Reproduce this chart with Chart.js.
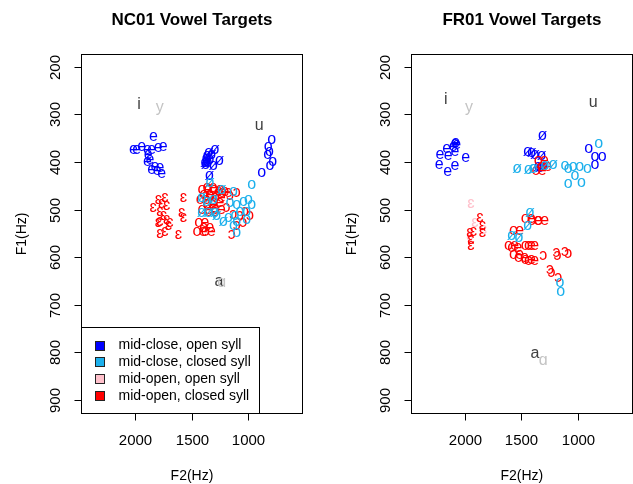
<!DOCTYPE html>
<html>
<head>
<meta charset="utf-8">
<script src="https://cdn.jsdelivr.net/npm/chart.js@4/dist/chart.umd.min.js"></script>
<style>
  body { margin: 0; background: #fff; }
  #wrap { position: relative; width: 633px; height: 484px; }
  canvas { position: absolute; top: 0; }
</style>
</head>
<body>
<div id="wrap">
  <canvas id="nc01" width="316" height="484" style="left:0"></canvas>
  <canvas id="fr01" width="317" height="484" style="left:316px"></canvas>
</div>
<script>
// axis ranges and ticks (Hz)
const F2_RANGE = [600, 2400];
const F1_RANGE = [200, 900];
const F2_TICKS = [2000, 1500, 1000];
const F1_TICKS = [200, 300, 400, 500, 600, 700, 800, 900];

const legendLabels = ["mid-close, open syll", "mid-close, closed syll", "mid-open, open syll", "mid-open, closed syll"];
const legendColors = ["#0000FF", "#1CB0EC", "#FFC0CB", "#FF0000"];
const refDark = "#404040";
const refLight = "#C4C4C4";

// [F2, F1, glyph]
const nc01MidCloseOpen = [
  [1839, 347, "e"], [1986, 374, "e"], [2015, 374, "e"], [1942, 366, "e"], [1892, 373, "e"],
  [1854, 374, "e"], [1796, 369, "e"], [1752, 368, "e"], [1884, 384, "e"], [1869, 394, "e"],
  [1892, 398, "e"], [1825, 409, "e"], [1781, 411, "e"], [1854, 415, "e"], [1766, 423, "e"],
  [1805, 418, "e"],
  [1355, 380, "ø"], [1371, 398, "ø"], [1342, 394, "ø"], [1298, 373, "ø"], [1260, 396, "ø"],
  [1313, 407, "ø"], [1348, 429, "ø"], [1386, 401, "ø"], [1366, 387, "ø"], [1327, 384, "ø"],
  [1380, 405, "ø"], [1375, 392, "ø"], [1360, 400, "ø"],
  [800, 352, "o"], [830, 366, "o"], [821, 377, "o"], [835, 384, "o"], [791, 398, "o"],
  [815, 408, "o"], [888, 422, "o"]
];
const nc01MidCloseClosed = [
  [1415, 475, "ø"], [1371, 482, "ø"], [1313, 478, "ø"], [1239, 457, "ø"], [1342, 443, "ø"],
  [1415, 506, "ø"], [1357, 506, "ø"], [1298, 506, "ø"], [1283, 513, "ø"], [1225, 524, "ø"],
  [1137, 461, "o"], [976, 447, "o"], [1108, 489, "o"], [1166, 485, "o"], [1049, 482, "o"],
  [1005, 478, "o"], [976, 489, "o"], [1181, 517, "o"], [1122, 513, "o"], [1108, 524, "o"],
  [1078, 503, "o"], [1137, 534, "o"], [1108, 548, "o"], [1020, 520, "o"], [1020, 503, "o"]
];
const nc01MidOpenOpen = [];
const nc01MidOpenClosed = [
  [1795, 478, "ɛ"], [1737, 475, "ɛ"], [1766, 487, "ɛ"], [1722, 491, "ɛ"], [1840, 496, "ɛ"],
  [1576, 475, "ɛ"], [1781, 503, "ɛ"], [1752, 513, "ɛ"], [1781, 524, "ɛ"], [1722, 520, "ɛ"],
  [1708, 534, "ɛ"], [1693, 527, "ɛ"], [1737, 545, "ɛ"], [1781, 550, "ɛ"], [1590, 506, "ɛ"],
  [1576, 517, "ɛ"], [1620, 552, "ɛ"], [1795, 527, "ɛ"],
  [1386, 457, "œ"], [1342, 454, "œ"], [1283, 457, "œ"], [1239, 461, "œ"], [1371, 468, "œ"],
  [1313, 471, "œ"], [1269, 475, "œ"], [1210, 464, "œ"], [1400, 478, "œ"], [1342, 489, "œ"],
  [1283, 485, "œ"], [1386, 499, "œ"], [1327, 503, "œ"], [1269, 499, "œ"], [1415, 527, "œ"],
  [1371, 538, "œ"], [1430, 545, "œ"], [1357, 545, "œ"],
  [1196, 496, "ɔ"], [1166, 471, "ɔ"], [1108, 464, "ɔ"], [1137, 510, "ɔ"], [1078, 513, "ɔ"],
  [1049, 527, "ɔ"], [991, 513, "ɔ"], [1035, 503, "ɔ"], [1152, 552, "ɔ"], [1108, 534, "ɔ"]
];
const nc01RefDark = [[1965, 278, "i"], [909, 323, "u"], [1263, 651, "a"]];
const nc01RefLight = [[1783, 285, "y"], [1240, 652, "ɑ"]];

const fr01MidCloseOpen = [
  [2088, 360, "e"], [2074, 363, "e"], [2103, 366, "e"], [2161, 372, "e"], [2220, 384, "e"],
  [2147, 386, "e"], [2088, 377, "e"], [1995, 391, "e"], [2226, 405, "e"], [2153, 419, "e"],
  [2088, 407, "e"], [2082, 359, "e"],
  [1321, 344, "ø"], [1450, 377, "ø"], [1386, 384, "ø"], [1327, 387, "ø"], [1357, 410, "ø"],
  [1313, 410, "ø"], [1415, 380, "ø"], [1342, 412, "ø"],
  [912, 372, "o"], [859, 389, "o"], [795, 389, "o"], [859, 405, "o"]
];
const fr01MidCloseClosed = [
  [1541, 414, "ø"], [1444, 415, "ø"], [1401, 414, "ø"], [1298, 407, "ø"], [1225, 405, "ø"],
  [1430, 506, "ø"], [1450, 533, "ø"], [1591, 554, "ø"], [1526, 559, "ø"],
  [1122, 407, "o"], [1093, 414, "o"], [1049, 410, "o"], [991, 410, "o"], [923, 414, "o"],
  [1034, 429, "o"], [1093, 445, "o"], [976, 442, "o"], [824, 361, "o"], [1166, 653, "o"],
  [1160, 671, "o"]
];
const fr01MidOpenOpen = [
  [1948, 487, "ɛ"], [1913, 527, "ɛ"], [1839, 541, "ɛ"], [1957, 555, "ɛ"]
];
const fr01MidOpenClosed = [
  [1869, 517, "ɛ"], [1848, 534, "ɛ"], [1848, 548, "ɛ"], [1957, 548, "ɛ"], [1927, 545, "ɛ"],
  [1948, 562, "ɛ"], [1948, 576, "ɛ"],
  [1444, 519, "œ"], [1386, 522, "œ"], [1327, 522, "œ"], [1547, 543, "œ"], [1591, 576, "œ"],
  [1562, 580, "œ"], [1444, 576, "œ"], [1415, 576, "œ"], [1547, 594, "œ"], [1503, 601, "œ"],
  [1444, 604, "œ"], [1415, 606, "œ"], [1330, 397, "œ"], [1350, 418, "œ"], [1300, 410, "œ"],
  [1313, 596, "ɔ"], [1196, 590, "ɔ"], [1122, 587, "ɔ"], [1093, 592, "ɔ"], [1254, 625, "ɔ"],
  [1239, 632, "ɔ"], [1181, 643, "ɔ"], [1187, 596, "ɔ"]
];
const fr01RefDark = [[2170, 269, "i"], [874, 275, "u"], [1386, 802, "a"]];
const fr01RefLight = [[1965, 285, "y"], [1312, 817, "ɑ"]];

const FONT = "'Liberation Sans', Arial, 'DejaVu Sans', sans-serif";

function toDataset(rows, color) {
  return {
    data: rows.map(r => ({ x: r[0], y: r[1] })),
    glyphs: rows.map(r => r[2]),
    glyphColor: color,
  };
}

// R-like (base graphics) drawing of glyphs, box, axes and legend
const rPlot = {
  id: "rPlot",
  afterDatasetsDraw(chart) {
    const ctx = chart.ctx;
    ctx.save();
    ctx.font = "16px " + FONT;
    ctx.textAlign = "center";
    ctx.textBaseline = "alphabetic";
    chart.data.datasets.forEach((ds, i) => {
      const meta = chart.getDatasetMeta(i);
      ctx.fillStyle = ds.glyphColor;
      meta.data.forEach((el, j) => {
        ctx.fillText(ds.glyphs[j], el.x, el.y + 4.2);
      });
    });
    ctx.restore();
  },
  afterDraw(chart, args, opts) {
    const ctx = chart.ctx;
    const area = chart.chartArea;
    const xs = chart.scales.x;
    const ys = chart.scales.y;
    const L = Math.floor(area.left) + 0.5;
    const R = Math.floor(area.right) + 0.5;
    const T = Math.floor(area.top) + 0.5;
    const B = Math.floor(area.bottom) + 0.5;
    ctx.save();
    ctx.strokeStyle = "#000";
    ctx.fillStyle = "#000";
    ctx.lineWidth = 1;

    // legend (bottomleft), drawn over the points
    if (opts.legend) {
      const w = 178, h = 86;
      const top = Math.floor(B - h) + 0.5;
      ctx.fillStyle = "#fff";
      ctx.fillRect(L, top, w, B - top);
      ctx.strokeRect(L, top, w, B - top);
      ctx.font = "14px " + FONT;
      ctx.textAlign = "left";
      ctx.textBaseline = "middle";
      legendLabels.forEach((lab, i) => {
        const cy = top + 18 + i * 16.8;
        ctx.fillStyle = legendColors[i];
        ctx.fillRect(L + 14, Math.round(cy - 5), 9, 9);
        ctx.strokeStyle = "#222";
        ctx.strokeRect(L + 14, Math.round(cy - 5) + 0.5, 9, 9);
        ctx.fillStyle = "#000";
        ctx.fillText(lab, L + 37, cy);
      });
      ctx.strokeStyle = "#000";
    }

    ctx.strokeRect(L, T, R - L, B - T);

    ctx.font = "15px " + FONT;
    ctx.fillStyle = "#000";
    // x axis
    ctx.textAlign = "center";
    ctx.textBaseline = "middle";
    const xp = F2_TICKS.map(v => Math.floor(xs.getPixelForValue(v)) + 0.5);
    ctx.beginPath();
    ctx.moveTo(xp[0], B); ctx.lineTo(xp[xp.length - 1], B);
    xp.forEach(px => { ctx.moveTo(px, B); ctx.lineTo(px, B + 7); });
    ctx.stroke();
    F2_TICKS.forEach((v, i) => ctx.fillText(String(v), xp[i], 441));

    // y axis
    const yp = F1_TICKS.map(v => Math.floor(ys.getPixelForValue(v)) + 0.5);
    ctx.beginPath();
    ctx.moveTo(L, yp[0]); ctx.lineTo(L, yp[yp.length - 1]);
    yp.forEach(py => { ctx.moveTo(L - 7, py); ctx.lineTo(L, py); });
    ctx.stroke();
    F1_TICKS.forEach((v, i) => {
      ctx.save();
      ctx.translate(L - 26, yp[i]);
      ctx.rotate(-Math.PI / 2);
      ctx.fillText(String(v), 0, 0);
      ctx.restore();
    });

    // axis titles
    ctx.font = "14px " + FONT;
    const cx = (area.left + area.right) / 2;
    const cy = (area.top + area.bottom) / 2;
    ctx.fillText("F2(Hz)", cx, 476);
    ctx.save();
    ctx.translate(L - 59, cy);
    ctx.rotate(-Math.PI / 2);
    ctx.fillText("F1(Hz)", 0, 0);
    ctx.restore();

    // main title
    ctx.font = "bold 17px " + FONT;
    ctx.fillText(opts.title, cx, 20);
    ctx.restore();
  },
};

function makePanel(id, title, groups, padLeft, padRight, showLegend) {
  const pad2 = 0.04 * (F2_RANGE[1] - F2_RANGE[0]);
  const pad1 = 0.04 * (F1_RANGE[1] - F1_RANGE[0]);
  return new Chart(document.getElementById(id), {
    type: "scatter",
    data: {
      datasets: groups.map(g => toDataset(g[0], g[1])),
    },
    options: {
      responsive: false,
      animation: false,
      events: [],
      layout: { padding: { left: padLeft, right: padRight, top: 54, bottom: 70.3 } },
      elements: { point: { radius: 0, hoverRadius: 0 } },
      scales: {
        x: { type: "linear", reverse: true, min: F2_RANGE[0] - pad2, max: F2_RANGE[1] + pad2, display: false },
        y: { type: "linear", reverse: true, min: F1_RANGE[0] - pad1, max: F1_RANGE[1] + pad1, display: false },
      },
      plugins: {
        legend: { display: false },
        tooltip: { enabled: false },
        rPlot: { title: title, legend: showLegend },
      },
    },
    plugins: [rPlot],
  });
}

makePanel("nc01", "NC01 Vowel Targets", [
  [nc01RefDark, refDark], [nc01RefLight, refLight],
  [nc01MidCloseOpen, legendColors[0]], [nc01MidOpenOpen, legendColors[2]],
  [nc01MidOpenClosed, legendColors[3]], [nc01MidCloseClosed, legendColors[1]],
], 81.3, 13.3, true);

makePanel("fr01", "FR01 Vowel Targets", [
  [fr01RefDark, refDark], [fr01RefLight, refLight],
  [fr01MidCloseOpen, legendColors[0]], [fr01MidOpenOpen, legendColors[2]],
  [fr01MidOpenClosed, legendColors[3]], [fr01MidCloseClosed, legendColors[1]],
], 95.3, 0.5, false);
</script>
</body>
</html>
